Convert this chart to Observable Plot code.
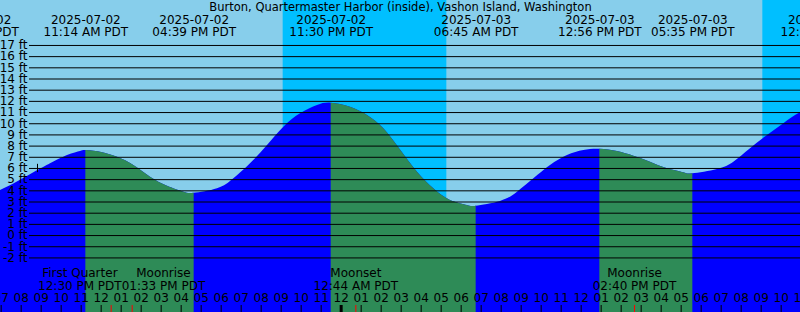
<!DOCTYPE html>
<html><head><meta charset="utf-8">
<script src="https://cdn.jsdelivr.net/npm/d3@7"></script>
<script src="https://cdn.jsdelivr.net/npm/@observablehq/plot@0.6"></script>
<style>body{margin:0;background:#87CEEB;overflow:hidden}</style>
</head><body><div id="chart"></div>
<script>
const title = "Burton, Quartermaster Harbor (inside), Vashon Island, Washington";

// Tide curve samples (local PDT wall time) and heights in ft
const sampleTimes = [
  "2025-07-02T05:46","2025-07-02T06:58","2025-07-02T08:38","2025-07-02T09:28","2025-07-02T10:19","2025-07-02T10:58",
  "2025-07-02T11:14","2025-07-02T11:58","2025-07-02T12:49","2025-07-02T13:38","2025-07-02T14:28","2025-07-02T15:19",
  "2025-07-02T16:08","2025-07-02T16:39","2025-07-02T17:49","2025-07-02T18:38","2025-07-02T19:28","2025-07-02T20:19",
  "2025-07-02T21:08","2025-07-02T21:58","2025-07-02T22:49","2025-07-02T23:30","2025-07-03T00:28","2025-07-03T01:19",
  "2025-07-03T02:08","2025-07-03T02:58","2025-07-03T03:49","2025-07-03T04:38","2025-07-03T05:28","2025-07-03T06:19",
  "2025-07-03T06:45","2025-07-03T07:58","2025-07-03T08:49","2025-07-03T09:38","2025-07-03T10:28","2025-07-03T11:19",
  "2025-07-03T12:08","2025-07-03T12:56","2025-07-03T13:49","2025-07-03T14:38","2025-07-03T15:28","2025-07-03T16:19",
  "2025-07-03T17:08","2025-07-03T17:35","2025-07-03T18:49","2025-07-03T19:38","2025-07-03T20:28","2025-07-03T21:19",
  "2025-07-03T22:08","2025-07-03T22:58","2025-07-04T00:05"
];
const sampleLevels = [
  3.5, 4.03, 5.61, 6.42, 7.16, 7.52,
  7.61, 7.46, 7.01, 6.27, 5.22, 4.41,
  3.88, 3.78, 4.18, 5.08, 6.42, 8.06,
  9.69, 10.89, 11.63, 11.84, 11.48, 10.74,
  9.55, 7.65, 5.67, 4.18, 3.14, 2.69,
  2.63, 3.05, 3.88, 5.08, 6.27, 7.16,
  7.61, 7.72, 7.52, 7.10, 6.56, 5.97,
  5.61, 5.52, 5.91, 6.56, 7.76, 8.95,
  10.0, 10.98, 11.6
];

// High / low tide events
const eventTimes = ["2025-07-02T05:46","2025-07-02T11:14","2025-07-02T16:39","2025-07-02T23:30",
                    "2025-07-03T06:45","2025-07-03T12:56","2025-07-03T17:35","2025-07-04T00:05"];
const eventKinds = ["low","high","low","high","low","high","low","high"];

// Moon events
const moonTimes = ["2025-07-02T12:30","2025-07-02T13:33","2025-07-03T00:44","2025-07-03T14:40"];
const moonNames = ["First Quarter","Moonrise","Moonset","Moonrise"];

// Night (sunset -> sunrise)
const nightStarts = ["2025-07-02T21:06","2025-07-03T21:05"];
const nightEnds   = ["2025-07-03T05:17","2025-07-04T05:17"];

// Level grid labels (ft)
const levelTicks = [-2,-1,0,1,2,3,4,5,6,7,8,9,10,11,12,13,14,15,16,17];

// Small marker
const markTimes = ["2025-07-02T08:49"];
const markLevels = [6];

const viewStart = "2025-07-02T06:58";
const viewEnd = "2025-07-03T22:58";
const yDomain = [-6.88, 21.02];

const parse = s => new Date(s + ":00Z");
const W = 800, H = 312;

const tide = sampleTimes.map((t, i) => ({t: parse(t), v: sampleLevels[i]}));
const events = eventTimes.map((t, i) => ({t: parse(t), kind: eventKinds[i]}));
const falling = [];
for (let i = 0; i < events.length - 1; i++) {
  if (events[i].kind === "high") falling.push([events[i].t, events[i + 1].t]);
}
const nights = nightStarts.map((s, i) => ({a: parse(s), b: parse(nightEnds[i])}));
const moon = moonTimes.map((t, i) => ({t: parse(t), name: moonNames[i]}));
const marks = markTimes.map((t, i) => ({t: parse(t), v: markLevels[i]}));

const t0 = parse(viewStart), t1 = parse(viewEnd);
const hours = d3.utcHour.range(t0, d3.utcHour.offset(t1, 1));
const midnights = hours.filter(d => d.getUTCHours() === 0);
const regularHours = hours.filter(d => d.getUTCHours() !== 0);

const fmtDate = d3.utcFormat("%Y-%m-%d");
const fmtTime = d => d3.utcFormat("%I:%M %p")(d) + " PDT";
const fmtHour = d3.utcFormat("%I");

// Layout helper: shift overlapping moon labels apart
const xs = d3.scaleUtc([t0, t1], [0, W]);
const ctx = document.createElement("canvas").getContext("2d");
ctx.font = "12px 'DejaVu Sans'";
const moonLayout = moon.map(m => {
  const w = Math.max(ctx.measureText(m.name).width, ctx.measureText(fmtTime(m.t)).width);
  return {...m, px: xs(m.t), cx: xs(m.t), w};
});
for (let i = 0; i < moonLayout.length - 1; i++) {
  const a = moonLayout[i], b = moonLayout[i + 1];
  const need = (a.w + b.w) / 2;
  const gap = b.cx - a.cx;
  if (gap < need) { const s = (need - gap) / 2; a.cx -= s; b.cx += s; }
}

function clipToSpans(spans, id) {
  return (index, scales, values, dims, context, next) => {
    const g = next(index, scales, values, dims, context);
    const ns = "http://www.w3.org/2000/svg";
    const outer = document.createElementNS(ns, "g");
    const cp = document.createElementNS(ns, "clipPath");
    cp.setAttribute("id", id);
    for (const [a, b] of spans) {
      const r = document.createElementNS(ns, "rect");
      const x1 = Math.max(0, scales.x(a)), x2 = Math.min(dims.width, scales.x(b));
      if (x2 <= x1) continue;
      r.setAttribute("x", x1); r.setAttribute("width", x2 - x1);
      r.setAttribute("y", 0); r.setAttribute("height", dims.height);
      cp.appendChild(r);
    }
    outer.appendChild(cp);
    outer.appendChild(g);
    outer.setAttribute("clip-path", `url(#${id})`);
    return outer;
  };
}

const T = {lineAnchor: "middle"};
const moonMarks = moonLayout.flatMap(m => [
  Plot.text([m], {...T, x: "t", text: d => d.name, frameAnchor: "bottom", dy: -39, dx: m.cx - m.px}),
  Plot.text([m], {...T, x: "t", text: d => fmtTime(d.t), frameAnchor: "bottom", dy: -26.3, dx: m.cx - m.px})
]);

const chart = Plot.plot({
  width: W, height: H,
  margin: 0,
  x: {type: "utc", domain: [t0, t1], axis: null},
  y: {domain: yDomain, axis: null},
  style: {background: "#87CEEB", fontFamily: "DejaVu Sans", fontSize: "12px", color: "black", overflow: "hidden"},
  marks: [
    Plot.rect(nights, {x1: "a", x2: "b", fill: "#00BFFF", clip: true}),
    Plot.areaY(tide, {x: "t", y1: yDomain[0], y2: "v", fill: "#0000FF", curve: "natural", clip: true}),
    Plot.areaY(tide, {x: "t", y1: yDomain[0], y2: "v", fill: "#2E8B57", curve: "natural",
                      render: clipToSpans(falling, "fall-clip")}),
    Plot.ruleY(levelTicks, {y: d => d, stroke: "black", strokeWidth: 1, insetLeft: 29}),
    Plot.text(levelTicks, {...T, y: d => d, text: d => `${d} ft`, frameAnchor: "left", dx: 27, textAnchor: "end"}),
    Plot.ruleX(marks, {x: "t", y1: d => d.v - 0.37, y2: d => d.v + 0.37, stroke: "black"}),
    Plot.text([title], {...T, text: d => d, frameAnchor: "top", dy: 7, fontSize: 11.5}),
    Plot.text(events, {...T, x: "t", text: d => fmtDate(d.t), frameAnchor: "top", dy: 19.5}),
    Plot.text(events, {...T, x: "t", text: d => fmtTime(d.t), frameAnchor: "top", dy: 31.3}),
    ...moonMarks,
    Plot.text(hours, {...T, x: d => d, text: d => fmtHour(d), frameAnchor: "bottom", dy: -14.5}),
    Plot.ruleX(regularHours, {x: d => d, insetTop: 305, stroke: "black"}),
    Plot.ruleX(midnights, {x: d => d, insetTop: 305, stroke: "black", strokeWidth: 3}),
    Plot.ruleX(moon, {x: "t", insetTop: 305, stroke: "red"})
  ]
});
document.getElementById("chart").appendChild(chart);
</script>
</body></html>
